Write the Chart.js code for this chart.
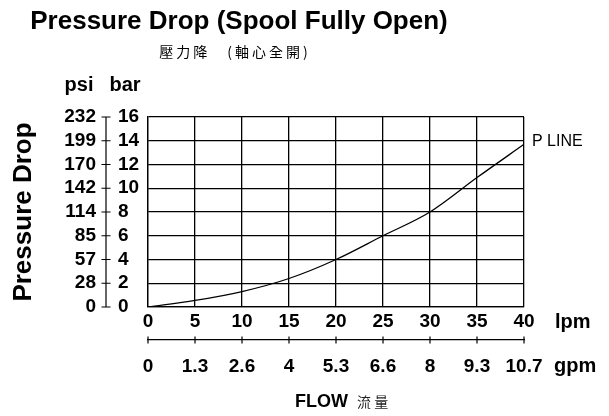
<!DOCTYPE html>
<html>
<head>
<meta charset="utf-8">
<script src="https://cdn.jsdelivr.net/npm/chart.js@4/dist/chart.umd.min.js"></script>
<style>
  body { margin: 0; background: #fff; }
  #wrap { width: 609px; height: 416px; }
</style>
</head>
<body>
<div id="wrap"><canvas id="chart" width="609" height="416"></canvas></div>
<script>
// flow (lpm) and pressure drop (bar)
const flowLpm = [0, 5, 10, 15, 20, 25, 30, 35, 40];
const pressureBar = [0, 0.55, 1.3, 2.4, 4.0, 6.0, 8.0, 10.9, 13.7];

// tick labels
const psiLabels = ['0', '28', '57', '85', '114', '142', '170', '199', '232'];
const gpmLabels = ['0', '1.3', '2.6', '4', '5.3', '6.6', '8', '9.3', '10.7'];

const FONT = '"Liberation Sans", Arial, Helvetica, sans-serif';
const CJK = '"Noto Sans CJK TC", "Noto Sans CJK SC", sans-serif';

// extra text and the psi / gpm axis tick marks
const decorPlugin = {
    id: 'decor',
    afterDraw(chart) {
        const { ctx, scales } = chart;
        const yPsi = scales.yPsi;
        const x2 = scales.x2;
        ctx.save();
        ctx.strokeStyle = '#000';
        ctx.fillStyle = '#000';
        ctx.lineWidth = 1.2;

        // psi axis line with crossing ticks
        const ax = yPsi.right - 12;
        ctx.beginPath();
        ctx.moveTo(ax, yPsi.top);
        ctx.lineTo(ax, yPsi.bottom);
        yPsi.ticks.forEach((t, i) => {
            const py = yPsi.getPixelForTick(i);
            ctx.moveTo(ax - 4.5, py);
            ctx.lineTo(ax + 4.5, py);
        });
        // gpm ticks
        x2.ticks.forEach((t, i) => {
            const px = x2.getPixelForTick(i);
            ctx.moveTo(px, x2.top - 3.5);
            ctx.lineTo(px, x2.top + 3.5);
        });
        ctx.stroke();

        // titles
        ctx.textAlign = 'center';
        ctx.textBaseline = 'alphabetic';
        ctx.font = 'bold 26px ' + FONT;
        ctx.fillText('Pressure Drop (Spool Fully Open)', 239, 29);
        ctx.font = '14px ' + CJK;
        if ('letterSpacing' in ctx) ctx.letterSpacing = '3px';
        ctx.fillText('壓力降　(軸心全開)', 235, 57);
        if ('letterSpacing' in ctx) ctx.letterSpacing = '0px';

        // unit headers
        ctx.font = 'bold 20px ' + FONT;
        ctx.fillText('psi', 79, 91);
        ctx.fillText('bar', 125, 91);

        ctx.textAlign = 'left';
        ctx.textBaseline = 'middle';
        ctx.fillText('lpm', 555, 322);
        ctx.fillText('gpm', 554, 366);

        // series label at the end of the line
        const meta = chart.getDatasetMeta(0);
        const last = meta.data[meta.data.length - 1];
        ctx.font = '16px ' + FONT;
        ctx.fillText('P LINE', last.x + 8, last.y - 3);

        // flow caption
        ctx.textBaseline = 'alphabetic';
        ctx.font = 'bold 18px ' + FONT;
        ctx.fillText('FLOW', 295, 407);
        ctx.font = '14px ' + CJK;
        ctx.fillStyle = '#222';
        ctx.fillText('流 量', 357, 407);
        ctx.restore();
    }
};

const tickFont = { family: FONT, size: 19, weight: 'bold' };

new Chart(document.getElementById('chart'), {
    type: 'line',
    data: {
        datasets: [{
            label: 'P LINE',
            data: flowLpm.map((f, i) => ({ x: f, y: pressureBar[i] })),
            borderColor: '#000',
            borderWidth: 1.3,
            pointRadius: 0,
            cubicInterpolationMode: 'monotone',
            fill: false,
            yAxisID: 'y',
            xAxisID: 'x'
        }]
    },
    options: {
        responsive: false,
        animation: false,
        layout: { padding: { left: 0, right: 85, top: 117, bottom: 0 } },
        plugins: {
            legend: { display: false },
            tooltip: { enabled: false }
        },
        scales: {
            x: {
                type: 'linear',
                position: 'bottom',
                weight: 0,
                min: 0,
                max: 40,
                ticks: { stepSize: 5, autoSkip: false, color: '#000', font: tickFont, padding: 3, maxRotation: 0 },
                grid: { color: '#000', lineWidth: 1.3, drawTicks: false },
                border: { color: '#000', width: 1.3 },
                afterFit: scale => { scale.height = 33; }
            },
            x2: {
                type: 'linear',
                position: 'bottom',
                weight: 1,
                min: 0,
                max: 40,
                ticks: {
                    stepSize: 5, autoSkip: false, color: '#000', font: tickFont, padding: 15, maxRotation: 0,
                    callback: (v, i) => gpmLabels[i]
                },
                grid: { display: false, drawTicks: false },
                border: { color: '#000', width: 1.2 },
                afterFit: scale => { scale.height = 76; }
            },
            y: {
                type: 'linear',
                position: 'left',
                weight: 0,
                min: 0,
                max: 16,
                ticks: { stepSize: 2, autoSkip: false, color: '#000', font: tickFont, crossAlign: 'far' },
                grid: { color: '#000', lineWidth: 1.3, drawTicks: false },
                border: { color: '#000', width: 1.3 },
                afterFit: scale => { scale.width = 30; }
            },
            yPsi: {
                type: 'linear',
                position: 'left',
                weight: 1,
                min: 0,
                max: 16,
                ticks: {
                    stepSize: 2, autoSkip: false, color: '#000', font: tickFont, padding: 22,
                    callback: (v, i) => psiLabels[i]
                },
                grid: { display: false, drawTicks: false },
                border: { display: false },
                title: {
                    display: true,
                    text: 'Pressure Drop',
                    color: '#000',
                    font: { family: FONT, size: 26, weight: 'bold' },
                    padding: { top: 8, bottom: 0 }
                },
                afterFit: scale => { scale.width = 118; }
            }
        }
    },
    plugins: [decorPlugin]
});
</script>
</body>
</html>
